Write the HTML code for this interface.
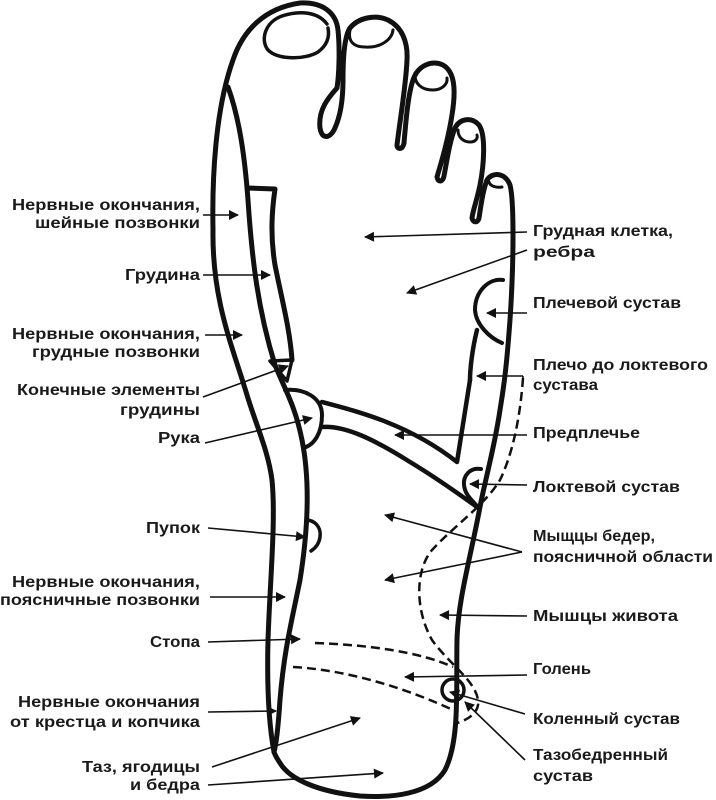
<!DOCTYPE html>
<html><head><meta charset="utf-8"><style>
html,body{margin:0;padding:0;background:#fff}
svg{display:block}
text{font-family:"Liberation Sans",sans-serif;font-size:16px;font-weight:bold;fill:#1a1a1a}
</style></head><body>
<svg width="716" height="800" viewBox="0 0 716 800" xmlns="http://www.w3.org/2000/svg">
<defs>
<marker id="a" viewBox="0 0 10 10" refX="9" refY="5" markerWidth="13" markerHeight="10" orient="auto" markerUnits="userSpaceOnUse"><path d="M0,0 L10,5 L0,10 z" fill="#111"/></marker>
</defs>
<g fill="none" stroke="#111" stroke-width="5" stroke-linecap="round" stroke-linejoin="round">
<path d="M274,752 C268,720 267,680 268,640 C270,580 276,520 272,480 C268,450 256,425 247,395 C232,345 212,300 213,230 C212,180 215,110 233,60 C243,30 265,8 300,3 C322,2 336,12 338,30 C340,50 339,75 337,88 C328,98 318,110 320,128 C322,140 330,138 334,130 C340,118 343,100 343,80 C343,55 345,35 350,28 C358,18 375,14 388,20 C402,27 408,42 407,60 C406,85 400,120 397,145 C397,150 403,150 404,143 C406,120 408,95 413,80 C418,65 432,60 443,65 C455,72 456,90 452,115 C448,140 442,160 437,177 C438,183 443,182 444,176 C447,160 450,140 455,128 C460,118 472,117 479,125 C486,135 484,165 480,185 C477,200 473,210 472,218 C473,223 478,223 479,218 C481,205 483,190 487,180 C492,172 505,172 510,185 C514,200 514,260 510,320 C507,360 505,380 500,410 C494,450 485,480 480,507 C470,560 458,600 457,640 C456,690 460,740 445,770 C430,795 390,798 360,796 C320,792 290,780 280,763 C276,757 275,755 274,752 Z"/>
<path d="M327,24 C318,12 300,10 282,16 C265,22 260,40 268,50 C278,60 305,60 318,52 C326,46 330,38 328,28" stroke-width="3.5"/>
<path d="M350,30 C348,40 352,47 365,47 C380,48 392,40 393,30" stroke-width="3"/>
<path d="M415,73 C414,84 422,90 433,90 C442,90 448,84 447,78" stroke-width="3"/>
<path d="M458,130 C458,138 464,142 470,142 C476,142 478,138 477,135" stroke-width="3"/>
<path d="M489,182 C490,186 496,188 502,187" stroke-width="3"/>
<path d="M228,87 C240,120 245,160 248,200 C252,260 258,310 275,365 C285,390 295,405 302,440 C310,480 308,530 300,580 C292,620 284,650 280,700 C278,730 276,745 274,752"/>
<path d="M247,188 L275,189 C272,210 270,235 275,265 C282,300 290,330 292,360"/>
<path d="M270,361 L292,360 L287,381 Z" stroke-width="3.5"/>
<path d="M285,390 C305,388 322,398 322,415 C322,432 315,445 303,448" stroke-width="4"/>
<path d="M322,402 C360,412 410,425 457,462 L470,380" stroke-width="4.5"/>
<path d="M322,427 C345,425 375,440 410,462 C440,480 460,495 477,507" stroke-width="4.5"/>
<path d="M477,330 C472,350 470,370 470,380" stroke-width="4.5"/>
<path d="M503,280 C488,278 475,292 475,310 C476,325 490,338 502,343" stroke-width="4"/>
<path d="M481,469 C470,467 463,476 464,485 C465,495 472,500 477,506" stroke-width="4"/>
<path d="M308,520 C318,522 321,530 320,537 C319,545 314,549 311,551" stroke-width="3.5"/>
<circle cx="453" cy="690" r="11" stroke-width="3.5"/>
</g>
<g fill="none" stroke="#111" stroke-width="2.5" stroke-dasharray="9,5">
<path d="M523,378 C520,420 512,455 500,480 C485,505 455,525 432,550 C415,570 415,610 432,640 C450,665 475,680 478,700 C480,712 468,720 457,723"/>
<path d="M315,643 C370,645 420,652 453,667"/>
<path d="M293,667 C350,670 410,690 453,710"/>
</g>
<g stroke="#111" stroke-width="1.6" marker-end="url(#a)">
<line x1="203" y1="215" x2="238" y2="215"/>
<line x1="203" y1="275" x2="270" y2="275"/>
<line x1="205" y1="335" x2="242" y2="335"/>
<line x1="203" y1="397" x2="288" y2="366"/>
<line x1="205" y1="443" x2="312" y2="418"/>
<line x1="208" y1="528" x2="305" y2="537"/>
<line x1="210" y1="597" x2="285" y2="597"/>
<line x1="208" y1="642" x2="300" y2="639"/>
<line x1="208" y1="712" x2="276" y2="711"/>
<line x1="212" y1="767" x2="360" y2="718"/>
<line x1="208" y1="785" x2="383" y2="773"/>
<line x1="527" y1="232" x2="365" y2="237"/>
<line x1="527" y1="250" x2="407" y2="293"/>
<line x1="527" y1="313" x2="487" y2="313"/>
<line x1="523" y1="376" x2="477" y2="376"/>
<line x1="527" y1="435" x2="395" y2="435"/>
<line x1="527" y1="485" x2="470" y2="484"/>
<line x1="522" y1="552" x2="385" y2="515"/>
<line x1="522" y1="552" x2="385" y2="580"/>
<line x1="527" y1="616" x2="440" y2="615"/>
<line x1="527" y1="675" x2="405" y2="677"/>
<line x1="525" y1="714" x2="450" y2="692"/>
<line x1="525" y1="760" x2="465" y2="702"/>
</g>
<line x1="523" y1="376" x2="523" y2="380" stroke="#111" stroke-width="1.6"/>
<g text-anchor="end">
<text x="200" y="210" textLength="188" lengthAdjust="spacingAndGlyphs">Нервные окончания,</text>
<text x="200" y="228" textLength="165" lengthAdjust="spacingAndGlyphs">шейные позвонки</text>
<text x="200" y="280" textLength="75" lengthAdjust="spacingAndGlyphs">Грудина</text>
<text x="200" y="339" textLength="188" lengthAdjust="spacingAndGlyphs">Нервные окончания,</text>
<text x="200" y="357" textLength="168" lengthAdjust="spacingAndGlyphs">грудные позвонки</text>
<text x="200" y="395" textLength="183" lengthAdjust="spacingAndGlyphs">Конечные элементы</text>
<text x="200" y="415" textLength="80" lengthAdjust="spacingAndGlyphs">грудины</text>
<text x="200" y="443" textLength="42" lengthAdjust="spacingAndGlyphs">Рука</text>
<text x="200" y="533" textLength="54" lengthAdjust="spacingAndGlyphs">Пупок</text>
<text x="200" y="587" textLength="188" lengthAdjust="spacingAndGlyphs">Нервные окончания,</text>
<text x="200" y="605" textLength="200" lengthAdjust="spacingAndGlyphs">поясничные позвонки</text>
<text x="200" y="647" textLength="50" lengthAdjust="spacingAndGlyphs">Стопа</text>
<text x="200" y="707" textLength="182" lengthAdjust="spacingAndGlyphs">Нервные окончания</text>
<text x="200" y="727" textLength="190" lengthAdjust="spacingAndGlyphs">от крестца и копчика</text>
<text x="200" y="772" textLength="118" lengthAdjust="spacingAndGlyphs">Таз, ягодицы</text>
<text x="200" y="790" textLength="70" lengthAdjust="spacingAndGlyphs">и бедра</text>
</g>
<g>
<text x="533" y="236" textLength="140" lengthAdjust="spacingAndGlyphs">Грудная клетка,</text>
<text x="533" y="257" textLength="62" lengthAdjust="spacingAndGlyphs">ребра</text>
<text x="533" y="308" textLength="148" lengthAdjust="spacingAndGlyphs">Плечевой сустав</text>
<text x="533" y="370" textLength="175" lengthAdjust="spacingAndGlyphs">Плечо до локтевого</text>
<text x="533" y="390" textLength="65" lengthAdjust="spacingAndGlyphs">сустава</text>
<text x="533" y="438" textLength="107" lengthAdjust="spacingAndGlyphs">Предплечье</text>
<text x="533" y="492" textLength="147" lengthAdjust="spacingAndGlyphs">Локтевой сустав</text>
<text x="533" y="541" textLength="122" lengthAdjust="spacingAndGlyphs">Мыщцы бедер,</text>
<text x="533" y="562" textLength="180" lengthAdjust="spacingAndGlyphs">поясничной области</text>
<text x="533" y="621" textLength="145" lengthAdjust="spacingAndGlyphs">Мышцы живота</text>
<text x="533" y="674" textLength="58" lengthAdjust="spacingAndGlyphs">Голень</text>
<text x="533" y="724" textLength="147" lengthAdjust="spacingAndGlyphs">Коленный сустав</text>
<text x="533" y="760" textLength="135" lengthAdjust="spacingAndGlyphs">Тазобедренный</text>
<text x="533" y="781" textLength="60" lengthAdjust="spacingAndGlyphs">сустав</text>
</g>
</svg>
</body></html>
